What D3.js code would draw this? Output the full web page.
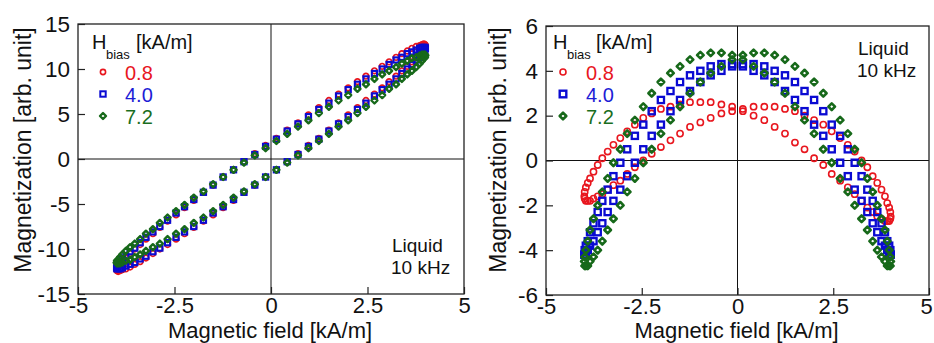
<!DOCTYPE html>
<html>
<head>
<meta charset="utf-8">
<script src="https://cdn.jsdelivr.net/npm/d3@7"></script>
<style>
  body { margin: 0; background: #fff; }
  text { font-family: "Liberation Sans", Arial, sans-serif; fill: #111; }
</style>
</head>
<body>
<svg id="chart" width="934" height="343"></svg>
<script>
// drive field samples (kA/m), shared by every loop
const fieldH = [4.00,3.99,3.96,3.91,3.85,3.76,3.65,3.53,3.39,3.24,3.06,2.88,2.68,2.46,2.24,2.00,1.75,1.50,1.24,0.97,0.70,0.42,0.14,
  -0.14,-0.42,-0.70,-0.97,-1.24,-1.50,-1.75,-2.00,-2.24,-2.46,-2.68,-2.88,-3.06,-3.24,-3.39,-3.53,-3.65,-3.76,-3.85,-3.91,-3.96,-3.99,-4.00,
  -3.99,-3.96,-3.91,-3.85,-3.76,-3.65,-3.53,-3.39,-3.24,-3.06,-2.88,-2.68,-2.46,-2.24,-2.00,-1.75,-1.50,-1.24,-0.97,-0.70,-0.42,-0.14,
  0.14,0.42,0.70,0.97,1.24,1.50,1.75,2.00,2.24,2.46,2.68,2.88,3.06,3.24,3.39,3.53,3.65,3.76,3.85,3.91,3.96,3.99];

// left panel: magnetization (arb. unit)
const leftM08 = [12.6,12.7,12.8,12.7,12.6,12.5,12.3,12.0,11.7,11.3,10.8,10.3,9.8,9.2,8.6,7.9,7.2,6.5,5.7,4.9,4.0,3.2,2.3,1.5,0.6,
  -0.3,-1.2,-2.0,-2.9,-3.7,-4.6,-5.4,-6.2,-6.9,-7.6,-8.3,-8.9,-9.5,-10.0,-10.5,-11.0,-11.4,-11.7,-12.0,-12.2,-12.3,-12.4,-12.5,
  -12.4,-12.3,-12.2,-12.0,-11.7,-11.4,-11.0,-10.5,-10.0,-9.5,-8.9,-8.3,-7.6,-6.9,-6.2,-5.4,-4.6,-3.7,-2.9,-2.0,-1.2,-0.3,
  0.6,1.5,2.3,3.2,4.0,4.9,5.7,6.5,7.2,7.9,8.6,9.2,9.8,10.3,10.8,11.3,11.7,12.0,12.3,12.5];
const leftM40 = [12.3,12.4,12.4,12.4,12.3,12.1,11.9,11.7,11.3,11.0,10.5,10.0,9.5,8.9,8.3,7.7,7.0,6.2,5.5,4.7,3.9,3.1,2.2,1.4,0.5,
  -0.3,-1.2,-2.0,-2.9,-3.7,-4.5,-5.3,-6.0,-6.8,-7.5,-8.1,-8.7,-9.3,-9.9,-10.3,-10.8,-11.1,-11.5,-11.7,-11.9,-12.1,-12.2,-12.2,
  -12.2,-12.1,-11.9,-11.7,-11.5,-11.1,-10.8,-10.3,-9.9,-9.3,-8.7,-8.1,-7.5,-6.8,-6.0,-5.3,-4.5,-3.7,-2.9,-2.0,-1.2,-0.3,
  0.5,1.4,2.2,3.1,3.9,4.7,5.5,6.2,7.0,7.7,8.3,8.9,9.5,10.0,10.5,11.0,11.3,11.7,11.9,12.1];
const leftM72 = [11.5,11.6,11.6,11.6,11.5,11.3,11.2,10.9,10.6,10.2,9.8,9.4,8.9,8.3,7.8,7.1,6.5,5.8,5.1,4.3,3.6,2.8,2.0,1.2,0.4,
  -0.4,-1.2,-2.0,-2.8,-3.6,-4.3,-5.1,-5.8,-6.5,-7.1,-7.8,-8.3,-8.9,-9.4,-9.8,-10.2,-10.6,-10.9,-11.2,-11.3,-11.5,-11.6,-11.6,
  -11.6,-11.5,-11.3,-11.2,-10.9,-10.6,-10.2,-9.8,-9.4,-8.9,-8.3,-7.8,-7.1,-6.5,-5.8,-5.1,-4.3,-3.6,-2.8,-2.0,-1.2,-0.4,
  0.4,1.2,2.0,2.8,3.6,4.3,5.1,5.8,6.5,7.1,7.8,8.3,8.9,9.4,9.8,10.2,10.6,10.9,11.2,11.3];

// right panel
const rightM08 = [-2.5,-2.6,-2.7,-2.7,-2.7,-2.6,-2.5,-2.3,-2.1,-1.8,-1.5,-1.2,-0.9,-0.6,-0.2,0.1,0.5,0.8,1.2,1.5,1.8,2.0,2.2,2.4,2.5,
  2.6,2.6,2.6,2.5,2.4,2.3,2.1,1.9,1.6,1.3,1.0,0.7,0.4,0.1,-0.2,-0.5,-0.8,-1.0,-1.2,-1.4,
  -1.6,-1.7,-1.8,-1.8,-1.8,-1.7,-1.6,-1.5,-1.3,-1.1,-0.9,-0.6,-0.3,0.0,0.3,0.6,0.9,1.2,1.5,1.7,1.9,2.1,2.2,2.3,2.4,
  2.4,2.4,2.3,2.2,2.0,1.8,1.6,1.3,1.0,0.7,0.4,0.0,-0.3,-0.7,-1.0,-1.3,-1.6,-1.9,-2.1,-2.3];
const rightM40 = [-4.2,-4.2,-4.2,-4.0,-3.8,-3.6,-3.2,-2.8,-2.3,-1.8,-1.3,-0.7,-0.1,0.5,1.1,1.6,2.2,2.7,3.1,3.5,3.8,4.0,4.2,4.3,4.3,
  4.2,4.0,3.8,3.5,3.1,2.7,2.2,1.6,1.1,0.5,-0.1,-0.7,-1.3,-1.8,-2.3,-2.8,-3.2,-3.6,-3.8,-4.0,
  -4.2,-4.2,-4.2,-4.0,-3.8,-3.6,-3.2,-2.8,-2.3,-1.8,-1.3,-0.7,-0.1,0.5,1.1,1.6,2.2,2.7,3.1,3.5,3.8,4.0,4.2,4.3,4.3,
  4.2,4.0,3.8,3.5,3.1,2.7,2.2,1.6,1.1,0.5,-0.1,-0.7,-1.3,-1.8,-2.3,-2.8,-3.2,-3.6,-3.8,-4.0];
const rightM72 = [-4.5,-4.7,-4.7,-4.7,-4.5,-4.3,-4.0,-3.6,-3.1,-2.6,-2.0,-1.4,-0.8,-0.1,0.5,1.2,1.8,2.4,3.0,3.5,3.9,4.2,4.5,4.7,4.8,
  4.8,4.7,4.5,4.2,3.9,3.5,3.0,2.4,1.8,1.2,0.5,-0.1,-0.8,-1.4,-2.0,-2.6,-3.1,-3.6,-4.0,-4.3,
  -4.5,-4.7,-4.7,-4.7,-4.5,-4.3,-4.0,-3.6,-3.1,-2.6,-2.0,-1.4,-0.8,-0.1,0.5,1.2,1.8,2.4,3.0,3.5,3.9,4.2,4.5,4.7,4.8,
  4.8,4.7,4.5,4.2,3.9,3.5,3.0,2.4,1.8,1.2,0.5,-0.1,-0.8,-1.4,-2.0,-2.6,-3.1,-3.6,-4.0,-4.3];

const biasLabels = ["0.8", "4.0", "7.2"];
const xTicks = [-5, -2.5, 0, 2.5, 5];
const leftYTicks = [-15, -10, -5, 0, 5, 10, 15];
const rightYTicks = [-6, -4, -2, 0, 2, 4, 6];

const colors = ["#e8161e", "#0a0ad2", "#17691a"];
const textColors = ["#e8161e", "#1c1cd6", "#1a6e1e"];
const shapes = ["circle", "square", "diamond"];

const svg = d3.select("#chart");

function drawMarker(sel, shape, color, s) {
  if (shape === "circle") {
    sel.append("circle").attr("r", s.r).attr("fill", "none")
      .attr("stroke", color).attr("stroke-width", s.cw);
  } else if (shape === "square") {
    sel.append("rect").attr("x", -s.q / 2).attr("y", -s.q / 2)
      .attr("width", s.q).attr("height", s.q).attr("fill", "none")
      .attr("stroke", color).attr("stroke-width", s.qw);
  } else {
    const d = s.d;
    sel.append("path").attr("d", `M0,${-d}L${d},0L0,${d}L${-d},0Z`)
      .attr("fill", "none").attr("stroke", color).attr("stroke-width", s.dw)
      .attr("stroke-linejoin", "round");
  }
}

function panel(cfg) {
  const x = d3.scaleLinear().domain([-5, 5]).range(cfg.xr);
  const y = d3.scaleLinear().domain(cfg.yd).range(cfg.yr);
  const g = svg.append("g");

  // zero lines
  g.append("line").attr("x1", x(0)).attr("x2", x(0)).attr("y1", y.range()[0]).attr("y2", y.range()[1])
    .attr("stroke", "#111").attr("stroke-width", 1);
  g.append("line").attr("x1", x.range()[0]).attr("x2", x.range()[1]).attr("y1", y(0)).attr("y2", y(0))
    .attr("stroke", "#111").attr("stroke-width", 1);

  // data loops
  cfg.series.forEach((vals, i) => {
    const pts = fieldH.map((h, j) => [h, vals[j]]);
    g.append("g").selectAll("g").data(pts).join("g")
      .attr("transform", d => `translate(${x(d[0])},${y(d[1])})`)
      .each(function () { drawMarker(d3.select(this), shapes[i], colors[i], cfg.mk); });
  });

  // axes, ticks pointing inward
  const ax = g.append("g").attr("transform", `translate(0,${y.range()[0]})`)
    .call(d3.axisBottom(x).tickValues(xTicks).tickSize(-7).tickSizeOuter(0).tickPadding(3).tickFormat(d => String(d)));
  const ay = g.append("g").attr("transform", `translate(${x.range()[0]},0)`)
    .call(d3.axisLeft(y).tickValues(cfg.yt).tickSize(-7).tickSizeOuter(0).tickPadding(8).tickFormat(d => String(d)));
  [ax, ay].forEach(a => {
    a.select(".domain").remove();
    a.selectAll("line").attr("stroke", "#222").attr("stroke-width", 1.2);
    a.selectAll("text").attr("font-size", 22.5).attr("fill", "#111")
      .style("font-family", '"Liberation Sans", Arial, sans-serif');
  });
  ax.selectAll("text").attr("font-size", 22);
  if (cfg.lastDx) ax.selectAll(".tick text").filter(d => d === 5).attr("dx", cfg.lastDx);

  // frame
  g.append("rect").attr("x", x.range()[0]).attr("y", y.range()[1])
    .attr("width", x.range()[1] - x.range()[0]).attr("height", y.range()[0] - y.range()[1])
    .attr("fill", "none").attr("stroke", "#222").attr("stroke-width", 1.3);

  // axis titles
  g.append("text").attr("x", (x.range()[0] + x.range()[1]) / 2 - 1).attr("y", 338)
    .attr("text-anchor", "middle").attr("font-size", 22).text("Magnetic field [kA/m]");
  g.append("text").attr("transform", `translate(${cfg.ytx},150) rotate(-90)`)
    .attr("text-anchor", "middle").attr("font-size", 23).text("Magnetization [arb. unit]");

  // legend
  const L = cfg.leg;
  g.append("text").attr("x", L.hx).attr("y", 49).attr("font-size", 20).text("H");
  g.append("text").attr("x", L.hx + 14).attr("y", 59).attr("font-size", 13).text("bias");
  g.append("text").attr("x", L.ux).attr("y", 49).attr("font-size", 20).text("[kA/m]");
  biasLabels.forEach((lab, i) => {
    const my = 72 + i * 22;
    const m = g.append("g").attr("transform", `translate(${L.mx},${my})`);
    drawMarker(m, shapes[i], colors[i], L.mk);
    g.append("text").attr("x", L.tx).attr("y", my + 8).attr("font-size", 20)
      .attr("fill", textColors[i]).style("fill", textColors[i]).text(lab);
  });

  // condition note
  g.append("text").attr("x", cfg.note[0]).attr("y", cfg.note[1]).attr("font-size", 19).text("Liquid");
  g.append("text").attr("x", cfg.note[0] - 1).attr("y", cfg.note[1] + 22).attr("font-size", 19).text("10 kHz");
}

panel({
  xr: [78, 464], yd: [-15, 15], yr: [294, 24], yt: leftYTicks, ytx: 31,
  series: [leftM08, leftM40, leftM72],
  mk: { r: 2.8, cw: 1.7, q: 5.2, qw: 2.1, d: 3.0, dw: 2.4 },
  leg: { hx: 92, ux: 136, mx: 103, tx: 125, mk: { r: 2.6, cw: 1.6, q: 5.4, qw: 2, d: 3.0, dw: 2.4 } },
  note: [392, 252]
});

panel({
  xr: [546, 929], yd: [-6, 6], yr: [295, 26], yt: rightYTicks, ytx: 506,
  series: [rightM08, rightM40, rightM72],
  mk: { r: 3.1, cw: 1.6, q: 6.2, qw: 2.3, d: 3.3, dw: 2.6 },
  leg: { hx: 553, ux: 596, mx: 563, tx: 586, mk: { r: 3, cw: 1.6, q: 6.6, qw: 2.4, d: 3.3, dw: 2.6 } },
  note: [858, 55], lastDx: -3
});
</script>
</body>
</html>
